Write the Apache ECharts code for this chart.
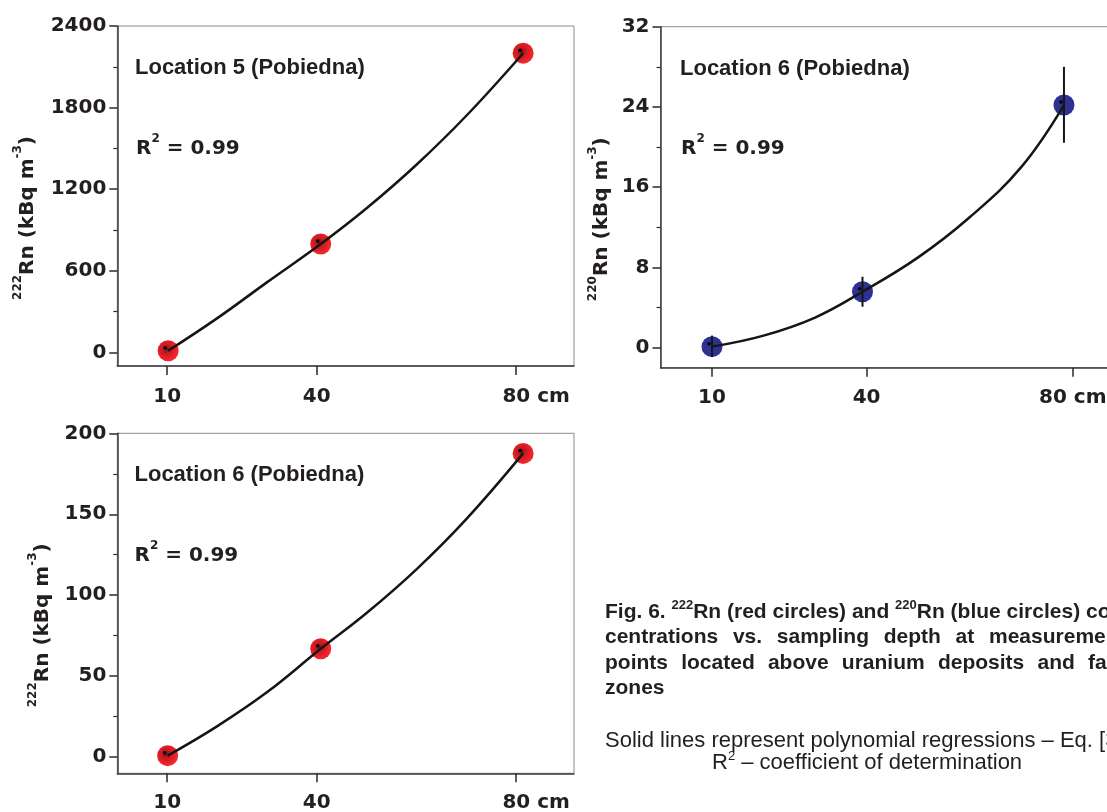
<!DOCTYPE html>
<html>
<head>
<meta charset="utf-8">
<title>Fig. 6 - Rn vs sampling depth</title>
<script src="https://cdn.jsdelivr.net/npm/echarts@6/dist/echarts.min.js"></script>
<style>
  html, body { margin: 0; padding: 0; background: #fff; }
  #chart { width: 1107px; height: 812px; }
</style>
</head>
<body>
<div id="chart"></div>
<script>
// ------------------------- data -------------------------
var depthTicks = [10, 40, 80];

// Location 5 (Pobiedna), 222Rn - red circles
var loc5Depth    = [10.2, 40.8, 81.4];
var loc5Rn222    = [12, 797, 2200];
var loc5FitDepth = [10.2, 20, 30, 40.8, 50, 60, 70, 81.4];
var loc5FitRn222 = [12, 250, 515, 797, 1060, 1380, 1740, 2200];
var loc5Ticks    = [0, 600, 1200, 1800, 2400];
var loc5Minor    = [300, 900, 1500, 2100];

// Location 6 (Pobiedna), 220Rn - blue circles with error bars
var loc6TnDepth    = [10, 39.2, 78.3];
var loc6Rn220      = [0.1, 5.57, 24.19];
var loc6Rn220Lo    = [-0.9, 4.08, 20.43];
var loc6Rn220Hi    = [1.2, 7.07, 28.0];
var loc6TnFitDepth = [10, 20, 30, 39.2, 50, 60, 70, 78.3];
var loc6TnFitRn220 = [0.1, 1.2, 3.0, 5.57, 9.0, 13.0, 18.0, 24.19];
var loc6TnTicks    = [0, 8, 16, 24, 32];
var loc6TnMinor    = [4, 12, 20, 28];

// Location 6 (Pobiedna), 222Rn - red circles
var loc6Depth    = [10.1, 40.8, 81.4];
var loc6Rn222    = [0.9, 66.9, 187.6];
var loc6FitDepth = [10.1, 20, 30, 40.8, 50, 60, 70, 81.4];
var loc6FitRn222 = [0.9, 19, 40, 66.9, 89, 116, 147, 187.6];
var loc6Ticks    = [0, 50, 100, 150, 200];
var loc6Minor    = [25, 75, 125, 175];

// ------------------------------- styling ------------------------------------
var INK = '#231f20';
var HEAVY = 'DejaVu Sans';
var SANS = 'Liberation Sans';

var redFill = {
  type: 'radial', x: 0.42, y: 0.42, r: 0.55,
  colorStops: [
    { offset: 0, color: '#6e1214' },
    { offset: 0.35, color: '#c01c22' },
    { offset: 0.72, color: '#e91d25' },
    { offset: 1, color: '#ec2a30' }
  ]
};
var blueFill = '#2e3192';

var pairs = function (xs, ys) {
  return xs.map(function (x, i) { return [x, ys[i]]; });
};

var tickFont = { fontFamily: HEAVY, fontWeight: 'bold', fontSize: 20, color: INK };

// one panel = grid + x axis + main y axis + minor-tick y axis
var grids = [], xAxes = [], yAxes = [], series = [];

var addPanel = function (p) {
  var g = grids.length;
  grids.push({
    left: p.box[0], top: p.box[1], width: p.box[2], height: p.box[3],
    show: true, borderColor: '#8c8c8c', borderWidth: 1,
    outerBoundsMode: 'none', containLabel: false
  });

  xAxes.push({
    gridIndex: g, type: 'value', min: 0, max: 91.6,
    axisLine: { show: true, onZero: false, lineStyle: { color: '#3a3a3a', width: 1.5 } },
    axisTick: { show: true, customValues: depthTicks, length: 9,
      lineStyle: { color: '#2a2a2a', width: 1.5 } },
    axisLabel: Object.assign({
      customValues: depthTicks, margin: p.xMargin,
      formatter: function (v) {
        if (v !== 80) { return String(v); }
        return p.unitPad ? '{pad| }80 cm' : '80 cm';
      },
      rich: { pad: { width: p.unitPad || 0 } }
    }, tickFont),
    splitLine: { show: false }
  });

  yAxes.push({
    gridIndex: g, type: 'value', min: p.yMin, max: p.yMax, position: 'left',
    axisLine: { show: true, onZero: false, lineStyle: { color: '#3a3a3a', width: 1.5 } },
    axisTick: { show: true, customValues: p.ticks, length: 8,
      lineStyle: { color: '#2a2a2a', width: 1.5 } },
    axisLabel: Object.assign({
      customValues: p.ticks, margin: 11,
      formatter: function (v) { return String(v); }
    }, tickFont),
    splitLine: { show: false },
    name: '{s|' + p.iso + '}{m|Rn (kBq m}{s|-3}{m|)}',
    nameLocation: 'middle',
    nameGap: p.nameGap,
    nameMoveOverlap: false,
    nameTextStyle: {
      padding: [0, 44, 0, 0],
      rich: {
        m: { fontFamily: HEAVY, fontWeight: 'bold', fontSize: 20, lineHeight: 30, color: INK },
        s: { fontFamily: HEAVY, fontWeight: 'bold', fontSize: 12, lineHeight: 13,
             verticalAlign: 'top', color: INK }
      }
    }
  });
  yAxes.push({
    gridIndex: g, type: 'value', min: p.yMin, max: p.yMax, position: 'left',
    axisLine: { show: false },
    axisTick: { show: true, customValues: p.minor, length: 4,
      lineStyle: { color: '#2a2a2a', width: 1.2 } },
    axisLabel: { show: false },
    splitLine: { show: false }
  });

  var xi = g, yi = g * 2;
  series.push({
    type: 'scatter', xAxisIndex: xi, yAxisIndex: yi, z: 2,
    symbolSize: 21, itemStyle: { color: p.fill, opacity: 1 },
    data: pairs(p.x, p.y)
  });
  series.push({
    type: 'line', xAxisIndex: xi, yAxisIndex: yi, z: 3,
    smooth: 0.4, symbol: 'none',
    lineStyle: { color: '#151515', width: 2.5 },
    data: pairs(p.fitX, p.fitY)
  });
  if (p.lo) {
    series.push({
      type: 'custom', xAxisIndex: xi, yAxisIndex: yi, z: 3,
      data: p.x.map(function (x, i) { return [x, p.lo[i], p.hi[i]]; }),
      renderItem: function (params, api) {
        var a = api.coord([api.value(0), api.value(1)]);
        var b = api.coord([api.value(0), api.value(2)]);
        return { type: 'line', shape: { x1: a[0], y1: a[1], x2: b[0], y2: b[1] },
                 style: { stroke: '#151515', lineWidth: 2 } };
      }
    });
  }
  series.push({
    type: 'scatter', xAxisIndex: xi, yAxisIndex: yi, z: 4,
    symbolSize: 3.5, symbolOffset: [-3, -3], itemStyle: { color: '#000', opacity: 1 },
    data: pairs(p.x, p.y)
  });
};

addPanel({ box: [117.3, 26, 456.7, 340], yMin: -100, yMax: 2400, ticks: loc5Ticks, minor: loc5Minor,
  iso: '222', nameGap: 75, xMargin: 21, unitPad: 40, fill: redFill,
  x: loc5Depth, y: loc5Rn222, fitX: loc5FitDepth, fitY: loc5FitRn222 });
addPanel({ box: [660.5, 26.7, 472, 341], yMin: -2, yMax: 32, ticks: loc6TnTicks, minor: loc6TnMinor,
  iso: '220', nameGap: 44, xMargin: 20, unitPad: 0, fill: blueFill,
  x: loc6TnDepth, y: loc6Rn220, lo: loc6Rn220Lo, hi: loc6Rn220Hi,
  fitX: loc6TnFitDepth, fitY: loc6TnFitRn220 });
addPanel({ box: [117.3, 433.3, 456.7, 340], yMin: -10, yMax: 200, ticks: loc6Ticks, minor: loc6Minor,
  iso: '222', nameGap: 60, xMargin: 19, unitPad: 40, fill: redFill,
  x: loc6Depth, y: loc6Rn222, fitX: loc6FitDepth, fitY: loc6FitRn222 });

// ---------------------------- text annotations ------------------------------
var text = function (x, y, str, style) {
  return {
    type: 'text', x: x, y: y, silent: true,
    style: Object.assign({ text: str, fill: INK, align: 'left', verticalAlign: 'middle',
      textAlign: 'left', textVerticalAlign: 'middle' }, style)
  };
};
var titleStyle = { font: 'bold 22px "' + SANS + '"' };
var r2Style = {
  rich: {
    m: { fontFamily: HEAVY, fontWeight: 'bold', fontSize: 20, lineHeight: 32, fill: INK, color: INK },
    s: { fontFamily: HEAVY, fontWeight: 'bold', fontSize: 12, lineHeight: 9, verticalAlign: 'top',
         fill: INK, color: INK }
  }
};
var r2 = '{m|R}{s|2}{m| = 0.99}';

var graphics = [
  text(135, 68, 'Location 5 (Pobiedna)', titleStyle),
  text(136, 149, r2, r2Style),
  text(680, 69, 'Location 6 (Pobiedna)', titleStyle),
  text(681, 148.5, r2, r2Style),
  text(134.5, 475, 'Location 6 (Pobiedna)', titleStyle),
  text(134.5, 555.5, r2, r2Style)
];

// caption: bold justified block; first and last word of a line pinned as in the figure
var capRich = {
  b: { fontFamily: SANS, fontWeight: 'bold', fontSize: 21, lineHeight: 26, fill: INK, color: INK },
  s: { fontFamily: SANS, fontWeight: 'bold', fontSize: 13, lineHeight: 12, verticalAlign: 'top',
       fill: INK, color: INK }
};
graphics.push(text(605, 612,
  '{b|Fig. 6. }{s|222}{b|Rn (red circles) and }{s|220}{b|Rn (blue circles) con-}',
  { rich: capRich }));

var capBold = 'bold 21px "' + SANS + '"';
var measureCtx = document.createElement('canvas').getContext('2d');
measureCtx.font = capBold;

var justify = function (words, y, x0, xLast) {
  var widths = words.map(function (w) { return measureCtx.measureText(w).width; });
  var inner = 0, i;
  for (i = 0; i < words.length - 1; i++) { inner += widths[i]; }
  var gap = words.length > 1 ? (xLast - x0 - inner) / (words.length - 1) : 0;
  var x = x0;
  for (i = 0; i < words.length; i++) {
    graphics.push(text(i === words.length - 1 && words.length > 1 ? xLast : x, y, words[i],
      { font: capBold }));
    x += widths[i] + gap;
  }
};
justify(['centrations', 'vs.', 'sampling', 'depth', 'at', 'measurement'], 637.5, 605, 989);
justify(['points', 'located', 'above', 'uranium', 'deposits', 'and', 'fault'], 663, 605, 1088);
justify(['zones'], 688.5, 605, 605);

graphics.push(text(605, 741, 'Solid lines represent polynomial regressions \u2013 Eq. [3],',
  { font: '22px "' + SANS + '"' }));
graphics.push(text(712, 763, '{r|R}{s|2}{r| \u2013 coefficient of determination}', {
  rich: {
    r: { fontFamily: SANS, fontSize: 22, lineHeight: 26, fill: INK, color: INK },
    s: { fontFamily: SANS, fontSize: 13, lineHeight: 12, verticalAlign: 'top', fill: INK, color: INK }
  }
}));

// ------------------------------- render -------------------------------------
var chart = echarts.init(document.getElementById('chart'), null, { renderer: 'canvas' });
chart.setOption({
  animation: false,
  backgroundColor: '#fff',
  grid: grids,
  xAxis: xAxes,
  yAxis: yAxes,
  series: series,
  graphic: { elements: graphics }
});
</script>
</body>
</html>
